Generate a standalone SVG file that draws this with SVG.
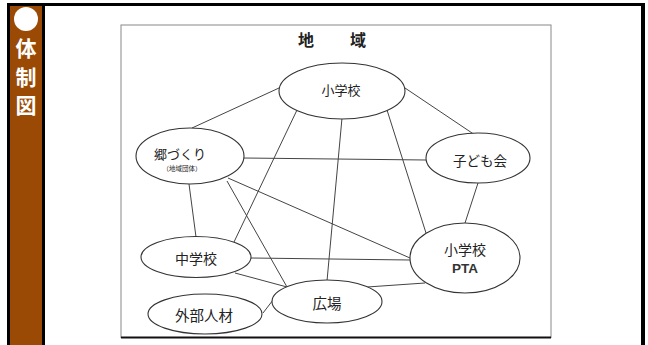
<svg xmlns="http://www.w3.org/2000/svg" width="648" height="345" viewBox="0 0 648 345">
<style>
.node ellipse{fill:#fff;stroke:#333;stroke-width:1.1}
.lbl{font-family:"Noto Sans CJK JP","Liberation Sans",sans-serif;fill:#222;text-anchor:middle;dominant-baseline:central}
.side{font-family:"Noto Sans CJK JP","Liberation Sans",sans-serif;fill:#fff;font-size:21px;font-weight:bold;text-anchor:middle;dominant-baseline:central}
#connectors line{stroke:#444;stroke-width:1}
</style>
<rect x="0" y="0" width="648" height="345" fill="#fff"/>
<g id="frame">
<rect x="7" y="3" width="38" height="342" fill="#000"/>
<rect x="10" y="6" width="32" height="339" fill="#9a4a05"/>
<rect x="7" y="3" width="638" height="3" fill="#000"/>
<rect x="641" y="3" width="4" height="342" fill="#000"/>
<circle cx="26" cy="19" r="12" fill="#fff"/>
<text class="side" x="26" y="47">体</text>
<text class="side" x="26" y="75.5">制</text>
<text class="side" x="26" y="103.5">図</text>
</g>
<g id="box">
<rect x="121" y="25" width="430" height="312.5" fill="#fff" stroke="#888" stroke-width="1"/>
<line x1="121" y1="337.5" x2="551" y2="337.5" stroke="#111" stroke-width="2"/>
<text class="lbl" x="306" y="39" style="font-size:16px;font-weight:bold" text-anchor="start">地</text>
<text class="lbl" x="358" y="39" style="font-size:16px;font-weight:bold">域</text>
</g>
<g id="connectors">
<line x1="279" y1="88" x2="192" y2="128"/>
<line x1="405" y1="88" x2="478" y2="137"/>
<line x1="243" y1="158" x2="426" y2="160"/>
<line x1="297" y1="110" x2="234" y2="242"/>
<line x1="342" y1="118" x2="327" y2="281"/>
<line x1="387" y1="110" x2="426" y2="233"/>
<line x1="478" y1="183" x2="465" y2="223"/>
<line x1="189" y1="184" x2="196" y2="237"/>
<line x1="227" y1="181" x2="287" y2="287"/>
<line x1="228" y1="178" x2="410" y2="258"/>
<line x1="251" y1="258" x2="410" y2="260"/>
<line x1="235" y1="273" x2="287" y2="287"/>
<line x1="367" y1="287" x2="425" y2="283"/>
<line x1="263" y1="313" x2="273" y2="300"/>
</g>
<g id="n-shogakko" class="node">
<ellipse cx="342" cy="91" rx="63" ry="28"/>
<text class="lbl" x="341" y="89" font-size="13">小学校</text>
</g>
<g id="n-satozukuri" class="node">
<ellipse cx="190" cy="156" rx="54" ry="28"/>
<text class="lbl" x="180" y="153" font-size="13">郷づくり</text>
<text class="lbl" x="182" y="168" font-size="6.5">（地域団体）</text>
</g>
<g id="n-kodomokai" class="node">
<ellipse cx="478" cy="158" rx="52" ry="25"/>
<text class="lbl" x="480" y="160" font-size="13.5">子ども会</text>
</g>
<g id="n-chugakko" class="node">
<ellipse cx="196" cy="257" rx="55" ry="20.5"/>
<text class="lbl" x="196" y="258" font-size="14">中学校</text>
</g>
<g id="n-pta" class="node">
<ellipse cx="465" cy="258" rx="55" ry="35"/>
<text class="lbl" x="465" y="249" font-size="14">小学校</text>
<text class="lbl" x="465" y="268" font-size="13.5" style="font-family:'Liberation Sans',sans-serif;font-weight:bold;fill:#333">PTA</text>
</g>
<g id="n-hiroba" class="node">
<ellipse cx="327" cy="301.5" rx="55" ry="21.5"/>
<text class="lbl" x="327" y="302" font-size="14.5">広場</text>
</g>
<g id="n-gaibu" class="node">
<ellipse cx="205" cy="314" rx="57" ry="20"/>
<text class="lbl" x="204" y="314" font-size="14.5">外部人材</text>
</g>
</svg>
